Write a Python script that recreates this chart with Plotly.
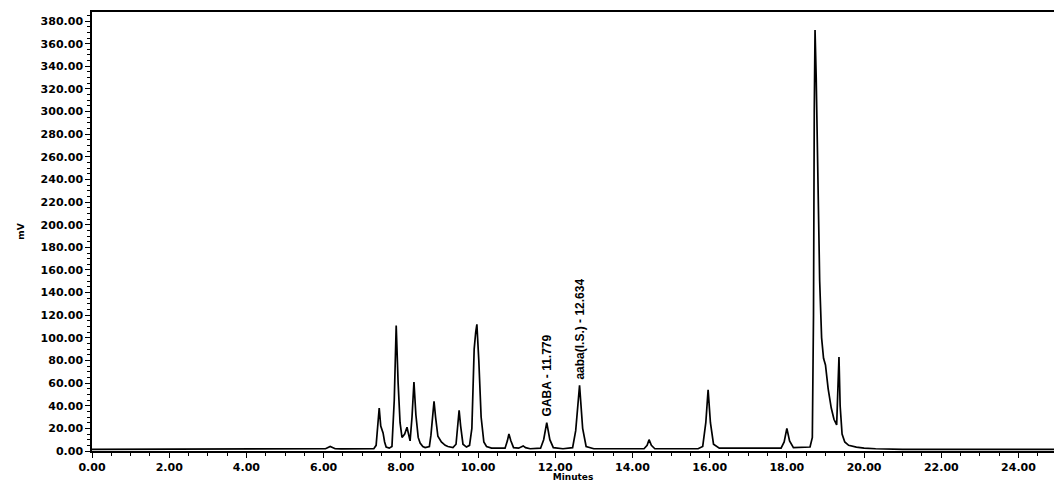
import plotly.graph_objects as go

# Retention time (min) and detector response (mV) of the chromatogram trace
time_min = [
    0.0, 1.0, 2.0, 3.0, 4.0, 5.0, 5.9, 6.05, 6.17, 6.3, 6.45, 7.0,
    7.3, 7.36, 7.41, 7.44, 7.48, 7.54, 7.58, 7.62, 7.7,
    7.77, 7.83, 7.88, 7.93, 7.98, 8.03, 8.1, 8.16, 8.21, 8.24, 8.29, 8.34, 8.39,
    8.45, 8.5, 8.57, 8.63, 8.74, 8.78, 8.83, 8.86, 8.9, 8.96, 9.05, 9.15, 9.22,
    9.35, 9.43, 9.48, 9.51, 9.55, 9.61, 9.7, 9.78, 9.84, 9.9, 9.94, 9.97, 10.02,
    10.08, 10.15, 10.22, 10.35, 10.7, 10.76, 10.8, 10.85, 10.92, 11.05, 11.12,
    11.17, 11.23, 11.35, 11.62, 11.7, 11.78, 11.86, 11.95, 12.2, 12.45, 12.53,
    12.63, 12.71, 12.8, 13.0, 14.3, 14.38, 14.43, 14.49, 14.58, 15.7, 15.82,
    15.9, 15.96, 16.02, 16.1, 16.25, 17.85, 17.93, 18.0, 18.07, 18.17, 18.6,
    18.66, 18.69, 18.71, 18.73, 18.76, 18.79, 18.82, 18.85, 18.9, 18.95, 19.0,
    19.07, 19.15, 19.22, 19.29, 19.33, 19.35, 19.38, 19.43, 19.5, 19.6, 19.8,
    20.0, 20.3, 21.0, 22.0, 23.0, 24.0, 24.92,
]
signal_mv = [
    1.5, 1.5, 1.5, 1.5, 1.5, 1.5, 1.5, 2.0, 4.0, 2.0, 1.8, 2.0,
    2.0, 5.0, 24.0, 38.0, 22.0, 16.0, 8.0, 3.5, 2.5,
    4.0, 45.0, 111.0, 60.0, 25.0, 12.0, 15.0, 21.0, 13.0, 9.0, 30.0, 61.0, 32.0,
    12.0, 7.0, 4.0, 3.0, 4.0, 14.0, 36.0, 44.0, 30.0, 13.0, 8.0, 5.0, 4.0,
    3.0, 6.0, 25.0, 36.0, 22.0, 6.0, 3.5, 5.0, 20.0, 90.0, 105.0, 112.0, 80.0,
    30.0, 8.0, 4.0, 2.5, 2.5, 9.0, 15.0, 9.0, 3.0, 2.5, 3.5,
    4.5, 3.0, 2.0, 2.5, 10.0, 25.0, 10.0, 3.0, 2.0, 3.0, 18.0,
    58.0, 20.0, 4.0, 2.0, 2.0, 5.0, 10.0, 5.0, 2.0, 2.0, 4.0,
    25.0, 54.0, 25.0, 6.0, 2.5, 2.5, 8.0, 20.0, 9.0, 3.0, 3.5,
    12.0, 120.0, 300.0, 372.0, 330.0, 272.0, 222.0, 150.0, 100.0, 82.0, 76.0,
    55.0, 38.0, 28.0, 23.0, 60.0, 83.0, 40.0, 15.0, 8.0, 5.0, 3.5,
    2.5, 2.0, 1.5, 1.5, 1.5, 1.5, 1.5,
]

# Identified peaks
peak_names = ["GABA - 11.779", "aaba(I.S.) - 12.634"]
peak_times = [11.779, 12.634]
peak_heights = [25.0, 58.0]

y_ticks = list(range(0, 381, 20))
x_ticks = list(range(0, 25, 2))

tick_font = dict(family="DejaVu Sans", size=11, color="black", weight="bold")

fig = go.Figure()
fig.add_trace(go.Scatter(
    x=time_min, y=signal_mv, mode="lines",
    line=dict(color="black", width=1.7),
    showlegend=False, hoverinfo="skip",
))

for name, t, h in zip(peak_names, peak_times, peak_heights):
    fig.add_annotation(
        x=t, y=h, text=name, textangle=-90, showarrow=False,
        xanchor="center", yanchor="bottom", yshift=4,
        font=dict(family="Liberation Sans Narrow, Liberation Sans", size=12,
                  color="black", weight="bold"),
    )

fig.update_layout(
    width=1054, height=482,
    margin=dict(l=92, r=0, t=12, b=31),
    paper_bgcolor="white", plot_bgcolor="white",
    xaxis=dict(
        range=[0, 24.92], tickvals=x_ticks, tickformat=".2f",
        showline=True, linecolor="black", linewidth=1.5, mirror=True,
        ticks="outside", ticklen=5, tickcolor="black", tickwidth=1.2,
        minor=dict(dtick=0.5, ticks="outside", ticklen=3, tickcolor="black"),
        showgrid=False, zeroline=False, tickfont=tick_font,
        title=dict(text="Minutes", standoff=0,
                   font=dict(family="DejaVu Sans", size=9, color="black", weight="bold")),
    ),
    yaxis=dict(
        range=[0, 388], tickvals=y_ticks, tickformat=".2f",
        showline=True, linecolor="black", linewidth=1.5,
        ticks="outside", ticklen=5, tickcolor="black", tickwidth=1.2,
        minor=dict(dtick=5, ticks="outside", ticklen=3, tickcolor="black"),
        showgrid=False, zeroline=False, tickfont=tick_font,
        title=dict(text="mV", standoff=14,
                   font=dict(family="DejaVu Sans", size=9, color="black", weight="bold")),
    ),
)

fig.write_html("out.html")
